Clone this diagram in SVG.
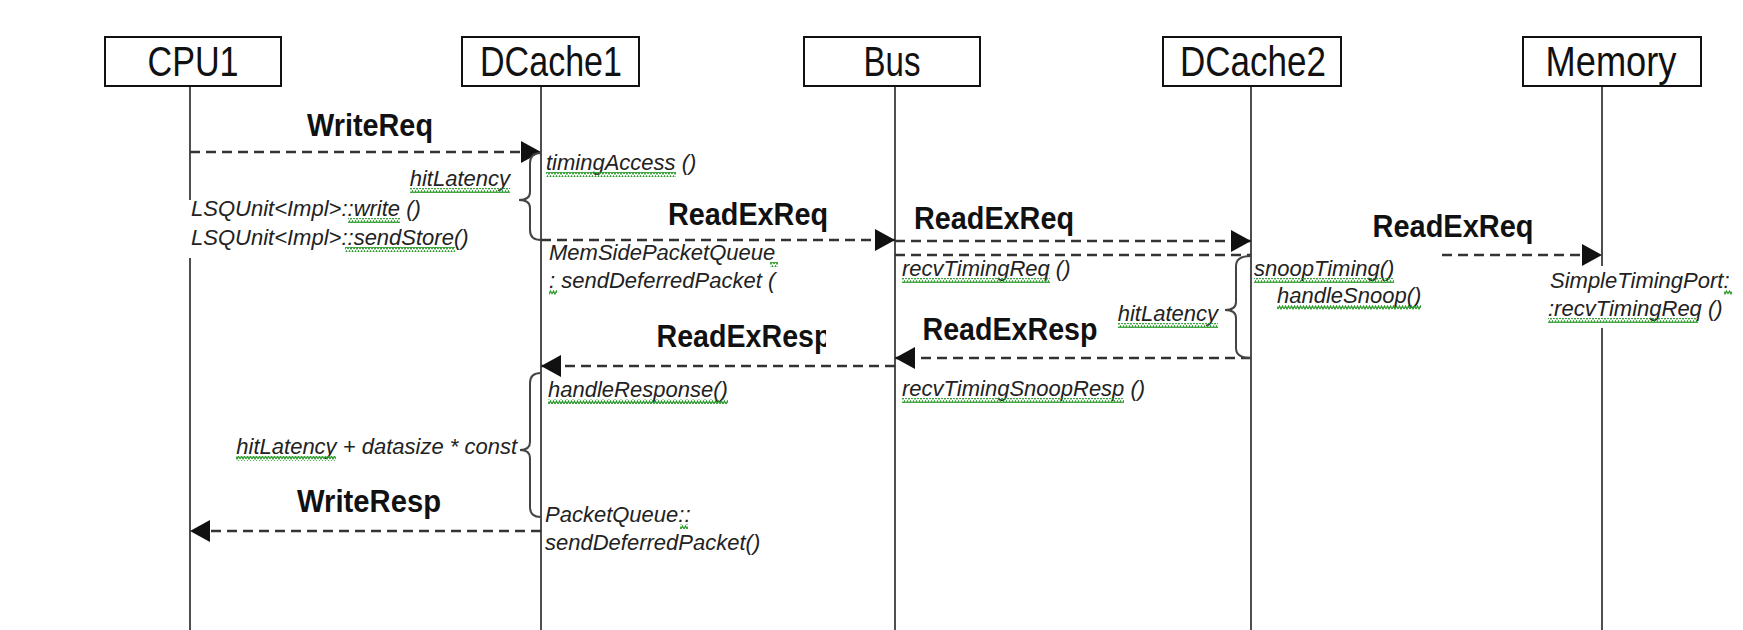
<svg xmlns="http://www.w3.org/2000/svg" width="1743" height="630" viewBox="0 0 1743 630">
<style>
.box{fill:#fff;stroke:#111;stroke-width:2}
.life{stroke:#222;stroke-width:1.6}
.hdr{font-family:"Liberation Sans",Arial,sans-serif;font-size:42px;fill:#111;text-anchor:middle}
.lbl{font-family:"Liberation Sans",Arial,sans-serif;font-size:31px;font-weight:bold;fill:#111;text-anchor:middle}
.it{font-family:"Liberation Sans",Arial,sans-serif;font-size:22px;font-style:italic;fill:#222}
.msg{stroke:#333;stroke-width:2.6;stroke-dasharray:10 6;fill:none}
.brace{stroke:#444;stroke-width:2;fill:none}
.sq{fill:url(#squig)}
</style>
<defs>
<marker id="ah" markerUnits="userSpaceOnUse" markerWidth="22" markerHeight="24" refX="20" refY="11" orient="auto">
<path d="M0,0 L20,11 L0,22 Z" fill="#111"/>
</marker>
<pattern id="squig" patternUnits="userSpaceOnUse" width="6" height="5">
<path d="M0,4 L1.5,1 L3,4 L4.5,1 L6,4" stroke="#2a9a2a" stroke-width="1.2" fill="none"/>
</pattern>
<clipPath id="clipResp"><rect x="600" y="300" width="226" height="60"/></clipPath>
</defs>
<rect width="1743" height="630" fill="#fff"/>

<g id="CPU1">
<line class="life" x1="190" y1="86" x2="190" y2="630"/>
<rect class="box" x="105" y="37" width="176" height="49"/>
<text class="hdr" x="193" y="76" textLength="91" lengthAdjust="spacingAndGlyphs">CPU1</text>
</g>
<g id="DCache1">
<line class="life" x1="541" y1="86" x2="541" y2="630"/>
<rect class="box" x="462" y="37" width="177" height="49"/>
<text class="hdr" x="551" y="76" textLength="142" lengthAdjust="spacingAndGlyphs">DCache1</text>
</g>
<g id="Bus">
<line class="life" x1="895" y1="86" x2="895" y2="630"/>
<rect class="box" x="804" y="37" width="176" height="49"/>
<text class="hdr" x="892" y="76" textLength="57" lengthAdjust="spacingAndGlyphs">Bus</text>
</g>
<g id="DCache2">
<line class="life" x1="1251" y1="86" x2="1251" y2="630"/>
<rect class="box" x="1163" y="37" width="178" height="49"/>
<text class="hdr" x="1253" y="76" textLength="146" lengthAdjust="spacingAndGlyphs">DCache2</text>
</g>
<g id="Memory">
<line class="life" x1="1602" y1="86" x2="1602" y2="630"/>
<rect class="box" x="1523" y="37" width="178" height="49"/>
<text class="hdr" x="1611" y="76" textLength="131" lengthAdjust="spacingAndGlyphs">Memory</text>
</g>

<g id="connectors">
<line class="msg" x1="190" y1="152" x2="541" y2="152" marker-end="url(#ah)"/>
<line class="msg" x1="541" y1="240" x2="895" y2="240" marker-end="url(#ah)"/>
<line class="msg" x1="895" y1="241" x2="1251" y2="241" marker-end="url(#ah)"/>
<line class="msg" x1="895" y1="255" x2="1251" y2="255"/>
<line class="msg" x1="1442" y1="255" x2="1602" y2="255" stroke-dasharray="2 12 10 6 10 6 10 6 10 6 10 6 10 6 10 6 10 6" marker-end="url(#ah)"/>
<line class="msg" x1="1251" y1="358" x2="895" y2="358" marker-end="url(#ah)"/>
<line class="msg" x1="895" y1="366" x2="541" y2="366" marker-end="url(#ah)"/>
<line class="msg" x1="541" y1="531" x2="190" y2="531" marker-end="url(#ah)"/>
<path class="brace" d="M541,153 Q530,153 530,163 L530,192 Q530,200 519,200 Q530,200 530,208 L530,230 Q530,240 541,240"/>
<path class="brace" d="M1251,256 Q1236,256 1236,266 L1236,302 Q1236,310 1225,310 Q1236,310 1236,318 L1236,348 Q1236,358 1251,358"/>
<path class="brace" d="M541,373 Q530,373 530,383 L530,442 Q530,450 520,450 Q530,450 530,458 L530,507 Q530,517 541,517"/>
</g>

<g id="labels">
<text class="lbl" x="370" y="136" textLength="126" lengthAdjust="spacingAndGlyphs">WriteReq</text>
<text class="lbl" x="748" y="225" textLength="160" lengthAdjust="spacingAndGlyphs">ReadExReq</text>
<text class="lbl" x="994" y="229" textLength="160" lengthAdjust="spacingAndGlyphs">ReadExReq</text>
<text class="lbl" x="1453" y="237" textLength="161" lengthAdjust="spacingAndGlyphs">ReadExReq</text>
<text class="lbl" x="1010" y="340" textLength="175" lengthAdjust="spacingAndGlyphs">ReadExResp</text>
<g clip-path="url(#clipResp)"><text class="lbl" x="744" y="347" textLength="175" lengthAdjust="spacingAndGlyphs">ReadExResp</text></g>
<text class="lbl" x="369" y="512" textLength="144" lengthAdjust="spacingAndGlyphs">WriteResp</text>

<rect x="186" y="200" width="250" height="58" fill="#fff"/>
<rect x="1546" y="266" width="190" height="62" fill="#fff"/>

<text class="it" x="546" y="170">timingAccess ()</text>
<rect class="sq" x="546" y="172" width="130" height="5"/>
<text class="it" x="510" y="186" text-anchor="end">hitLatency</text>
<rect class="sq" x="410" y="188" width="100" height="5"/>
<text class="it" x="191" y="216">LSQUnit&lt;Impl&gt;::write ()</text>
<rect class="sq" x="348" y="218" width="52" height="5"/>
<text class="it" x="191" y="245">LSQUnit&lt;Impl&gt;::sendStore()</text>
<rect class="sq" x="345" y="247" width="110" height="5"/>
<text class="it" x="549" y="260">MemSidePacketQueue</text>
<rect class="sq" x="770" y="262" width="8" height="5"/>
<text class="it" x="549" y="288">: sendDeferredPacket (</text>
<rect class="sq" x="549" y="290" width="8" height="5"/>
<text class="it" x="902" y="276">recvTimingReq ()</text>
<rect class="sq" x="902" y="278" width="148" height="5"/>
<text class="it" x="1254" y="276">snoopTiming()</text>
<rect class="sq" x="1254" y="278" width="140" height="5"/>
<text class="it" x="1277" y="303">handleSnoop()</text>
<rect class="sq" x="1277" y="305" width="144" height="5"/>
<text class="it" x="1218" y="321" text-anchor="end">hitLatency</text>
<rect class="sq" x="1118" y="323" width="100" height="5"/>
<text class="it" x="1550" y="288">SimpleTimingPort:</text>
<rect class="sq" x="1724" y="290" width="8" height="5"/>
<text class="it" x="1548" y="316">:recvTimingReq ()</text>
<rect class="sq" x="1548" y="318" width="150" height="5"/>
<text class="it" x="548" y="397">handleResponse()</text>
<rect class="sq" x="548" y="399" width="180" height="5"/>
<text class="it" x="902" y="396">recvTimingSnoopResp ()</text>
<rect class="sq" x="902" y="398" width="222" height="5"/>
<text class="it" x="517" y="454" text-anchor="end">hitLatency + datasize * const</text>
<rect class="sq" x="236" y="456" width="100" height="5"/>
<text class="it" x="545" y="522">PacketQueue::</text>
<rect class="sq" x="680" y="524" width="8" height="5"/>
<text class="it" x="545" y="550">sendDeferredPacket()</text>
</g>
</svg>
